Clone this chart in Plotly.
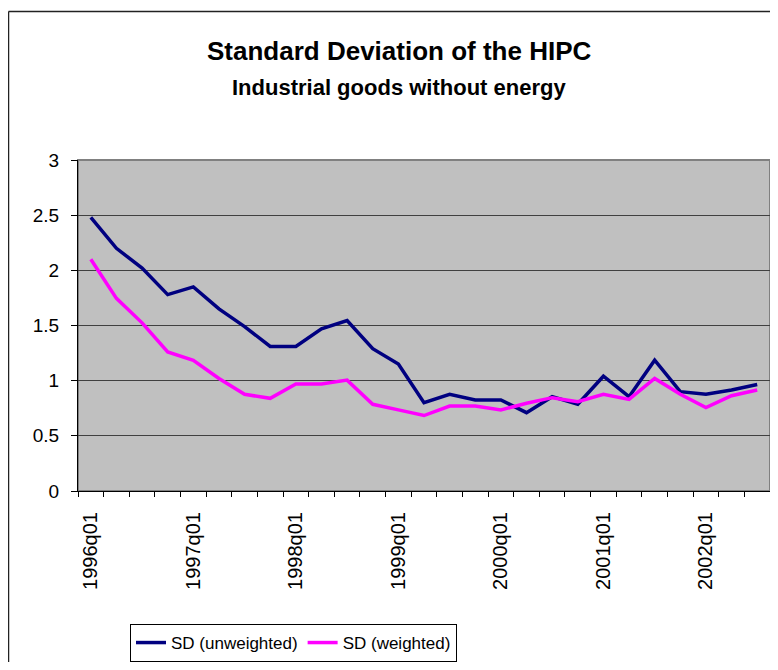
import plotly.graph_objects as go

quarters = [
    "1996q01", "1996q02", "1996q03", "1996q04",
    "1997q01", "1997q02", "1997q03", "1997q04",
    "1998q01", "1998q02", "1998q03", "1998q04",
    "1999q01", "1999q02", "1999q03", "1999q04",
    "2000q01", "2000q02", "2000q03", "2000q04",
    "2001q01", "2001q02", "2001q03", "2001q04",
    "2002q01", "2002q02", "2002q03",
]
sd_unweighted = [2.48, 2.20, 2.02, 1.78, 1.85, 1.65, 1.49, 1.31, 1.31, 1.47,
                 1.545, 1.29, 1.15, 0.80, 0.876, 0.825, 0.825, 0.71, 0.855, 0.786,
                 1.04, 0.855, 1.185, 0.90, 0.876, 0.915, 0.966]
sd_weighted = [2.10, 1.746, 1.524, 1.26, 1.185, 1.02, 0.876, 0.84, 0.969, 0.969,
               1.005, 0.786, 0.735, 0.684, 0.77, 0.77, 0.735, 0.795, 0.846, 0.81,
               0.876, 0.83, 1.02, 0.876, 0.756, 0.864, 0.915]
tick_labels = [q if q.endswith("q01") else "" for q in quarters]
y_ticks = [0, 0.5, 1, 1.5, 2, 2.5, 3]
y_tick_text = ["0", "0.5", "1", "1.5", "2", "2.5", "3"]

# The page body has an 8px default margin on every side; the figure is sized so
# the page does not overflow, and pixel positions are given in page coordinates.
OFF = 8
W, H = 778 - 2 * OFF, 670 - 2 * OFF
PLOT_L, PLOT_R, PLOT_T, PLOT_B = 78, 770, 160, 493
L, T = PLOT_L - OFF, PLOT_T - OFF
R = W - (PLOT_R - OFF)
B = H - (PLOT_B - OFF)
pw, ph = W - L - R, H - T - B

def px_x(x):
    return (x - OFF - L) / pw

def px_y(y):
    return (H - B - (y - OFF)) / ph

FONT = "Liberation Sans, Arial, sans-serif"

fig = go.Figure()
fig.add_trace(go.Scatter(x=quarters, y=sd_unweighted, mode="lines",
                         name="SD (unweighted)",
                         line=dict(color="#000080", width=3.5)))
fig.add_trace(go.Scatter(x=quarters, y=sd_weighted, mode="lines",
                         name="SD (weighted)",
                         line=dict(color="#FF00FF", width=3.5)))

fig.update_layout(
    width=W, height=H,
    margin=dict(l=L, r=R, t=T, b=B, pad=0),
    paper_bgcolor="white",
    plot_bgcolor="#C0C0C0",
    font=dict(family=FONT, color="black"),
    showlegend=True,
    legend=dict(
        orientation="h",
        x=px_x(130), xanchor="left",
        y=px_y(627), yanchor="top",
        bgcolor="white", bordercolor="black", borderwidth=1,
        font=dict(family=FONT, size=17),
        itemwidth=30,
    ),
    xaxis=dict(
        type="category",
        range=[-0.5, len(quarters) - 0.5],
        tickmode="array", tickvals=quarters, ticktext=tick_labels,
        tickson="boundaries", ticks="outside", ticklen=5, tickcolor="black",
        tickangle=-90, tickfont=dict(size=20, family=FONT),
        showline=True, linecolor="black", linewidth=1,
        showgrid=False, zeroline=False, automargin=False,
        ticklabelstandoff=12,
    ),
    yaxis=dict(
        range=[0, 3],
        tickmode="array", tickvals=y_ticks, ticktext=y_tick_text,
        ticks="outside", ticklen=6, tickcolor="black",
        tickfont=dict(size=19, family=FONT),
        showline=True, linecolor="black", linewidth=1,
        showgrid=True, gridcolor="#404040", gridwidth=1.2,
        zeroline=False, automargin=False,
        ticklabelstandoff=8,
    ),
    annotations=[
        dict(text="<b>Standard Deviation of the HIPC</b>", x=px_x(399), y=px_y(50),
             xref="paper", yref="paper", xanchor="center", yanchor="middle",
             showarrow=False, font=dict(size=26, family=FONT)),
        dict(text="<b>Industrial goods without energy</b>", x=px_x(399), y=px_y(87),
             xref="paper", yref="paper", xanchor="center", yanchor="middle",
             showarrow=False, font=dict(size=22, family=FONT)),
    ],
    shapes=[
        # plot area border (gray top/right)
        dict(type="rect", xref="paper", yref="paper", x0=0, x1=1, y0=0, y1=1,
             line=dict(color="#808080", width=2), layer="below"),
        # outer chart frame: top and left edges (others lie outside the view)
        dict(type="line", xref="paper", yref="paper",
             x0=px_x(8.5), x1=px_x(778), y0=px_y(10.5), y1=px_y(10.5),
             line=dict(color="#222222", width=1.5), layer="above"),
        dict(type="line", xref="paper", yref="paper",
             x0=px_x(8.5), x1=px_x(8.5), y0=px_y(10.5), y1=px_y(670),
             line=dict(color="#222222", width=1.5), layer="above"),
    ],
)

fig.write_html("out.html")
